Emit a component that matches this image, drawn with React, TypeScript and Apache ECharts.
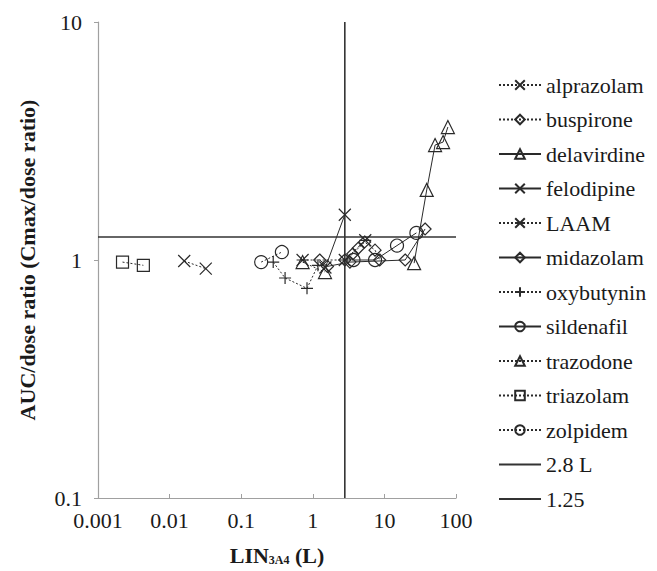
import React, { useEffect, useRef } from "react";
import * as echarts from "echarts";

const alprazolam = [[0.016, 0.99], [0.032, 0.92]];
const buspirone = [[2.8, 1.0], [3.6, 1.06], [4.3, 1.12], [5.3, 1.19], [7.4, 1.1], [8.6, 1.0]];
const delavirdine = [[26, 0.97], [39, 1.97], [51, 3.04], [66, 3.13], [77, 3.62]];
const felodipine = [[1.5, 0.93], [2.8, 1.55]];
const laam = [[0.72, 1.0], [2.8, 1.0], [5.4, 1.21]];
const midazolam = [[1.25, 1.0], [1.6, 0.94], [3.3, 0.98], [19.5, 1.0], [37, 1.35]];
const oxybutynin = [[0.28, 0.98], [0.41, 0.84], [0.83, 0.76], [1.18, 0.95]];
const sildenafil = [[3.7, 1.0], [7.4, 1.0], [15, 1.15], [28, 1.3]];
const trazodone = [[0.72, 0.98], [1.48, 0.89]];
const triazolam = [[0.0022, 0.98], [0.0043, 0.95]];
const zolpidem = [[0.19, 0.98], [0.37, 1.08]];
const refVertical = [[2.8, 0.1], [2.8, 10]];
const refHorizontal = [[0.001, 1.25], [100, 1.25]];

const legendNames = [
  "alprazolam", "buspirone", "delavirdine", "felodipine", "LAAM", "midazolam",
  "oxybutynin", "sildenafil", "trazodone", "triazolam", "zolpidem", "2.8 L", "1.25",
];

const SYM_X = "path://M0,0L10,10M10,0L0,10";
const SYM_AST = "path://M0,0L10,10M10,0L0,10M0,5L10,5";
const SYM_PLUS = "path://M5,0L5,10M0,5L10,5";
const SYM_DIAMOND = "path://M5,0L10,5L5,10L0,5Z";
const SYM_SQUARE = "path://M0,0L10,0L10,10L0,10Z";
const SYM_TRI = "path://M5,0L10,9L0,9Z";

const INK = "#2a2a2a";
const TXT = "#1a1a1a";
const FONT = "'Liberation Serif', 'Times New Roman', 'DejaVu Serif', serif";

function mk(name: string, data: number[][], symbol: string, dotted: boolean, size = 12) {
  return {
    name,
    type: "line",
    data,
    symbol,
    symbolSize: size,
    showSymbol: true,
    lineStyle: { color: INK, width: 1, type: dotted ? [2, 2] : "solid" },
    itemStyle: { color: "rgba(0,0,0,0)", borderColor: INK, borderWidth: 1.2 },
    emphasis: { disabled: true },
  };
}

function refLine(name: string, data: number[][]) {
  return {
    name,
    type: "line",
    data,
    showSymbol: false,
    symbol: "circle",
    symbolSize: 0,
    lineStyle: { color: "#333", width: 1.6 },
    itemStyle: { color: "rgba(0,0,0,0)", borderWidth: 0, borderColor: "rgba(0,0,0,0)" },
    emphasis: { disabled: true },
  };
}

export default function App() {
  const ref = useRef<HTMLDivElement>(null);
  useEffect(() => {
    if (!ref.current) return;
    const chart = echarts.init(ref.current, undefined, { renderer: "svg" });
    const fmt = (v: number) => String(parseFloat(Number(v).toPrecision(3)));
    chart.setOption({
      animation: false,
      textStyle: { fontFamily: FONT },
      grid: { left: 98, right: 201, top: 22, bottom: 73 },
      xAxis: {
        type: "log",
        logBase: 10,
        min: 0.001,
        max: 100,
        name: "{b|LIN}{s|3A4}{b| (L)}",
        nameLocation: "middle",
        nameGap: 46,
        nameTextStyle: {
          rich: {
            b: { fontFamily: FONT, fontSize: 22, fontWeight: "bold", color: TXT },
            s: { fontFamily: FONT, fontSize: 12, fontWeight: "bold", color: TXT, verticalAlign: "bottom", padding: [10, 0, 0, 0] },
          },
        },
        axisLine: { lineStyle: { color: "#a0a0a0", width: 1.2 } },
        axisTick: { inside: true, length: 4, lineStyle: { color: "#a0a0a0" } },
        minorTick: { show: false },
        splitLine: { show: false },
        axisLabel: { fontFamily: FONT, fontSize: 22, color: TXT, margin: 11, formatter: fmt },
      },
      yAxis: {
        type: "log",
        logBase: 10,
        min: 0.1,
        max: 10,
        name: "AUC/dose ratio (Cmax/dose ratio)",
        nameLocation: "middle",
        nameGap: 60,
        nameTextStyle: { fontFamily: FONT, fontSize: 22, fontWeight: "bold", color: TXT },
        axisLine: { show: true, lineStyle: { color: "#a0a0a0", width: 1.2 } },
        axisTick: { show: true, inside: false, length: 4, lineStyle: { color: "#a0a0a0" } },
        splitLine: { show: false },
        axisLabel: { fontFamily: FONT, fontSize: 22, color: TXT, margin: 16, formatter: fmt },
      },
      legend: {
        orient: "vertical",
        left: 493,
        top: 68,
        itemWidth: 42,
        itemHeight: 12,
        itemGap: 10.5,
        textStyle: { fontFamily: FONT, fontSize: 22, color: TXT, lineHeight: 24 },
        data: legendNames,
      },
      series: [
        mk("alprazolam", alprazolam, SYM_X, true),
        mk("buspirone", buspirone, SYM_DIAMOND, true),
        mk("delavirdine", delavirdine, SYM_TRI, false, 13),
        mk("felodipine", felodipine, SYM_X, false),
        mk("LAAM", laam, SYM_AST, true),
        mk("midazolam", midazolam, SYM_DIAMOND, false),
        mk("oxybutynin", oxybutynin, SYM_PLUS, true),
        mk("sildenafil", sildenafil, "circle", false, 13),
        mk("trazodone", trazodone, SYM_TRI, true, 13),
        mk("triazolam", triazolam, SYM_SQUARE, true),
        mk("zolpidem", zolpidem, "circle", true, 13),
        refLine("2.8 L", refVertical),
        refLine("1.25", refHorizontal),
      ],
    });
    return () => chart.dispose();
  }, []);
  return <div ref={ref} style={{ width: 657, height: 571, position: "absolute", left: 0, top: 0, background: "#fff" }} />;
}
